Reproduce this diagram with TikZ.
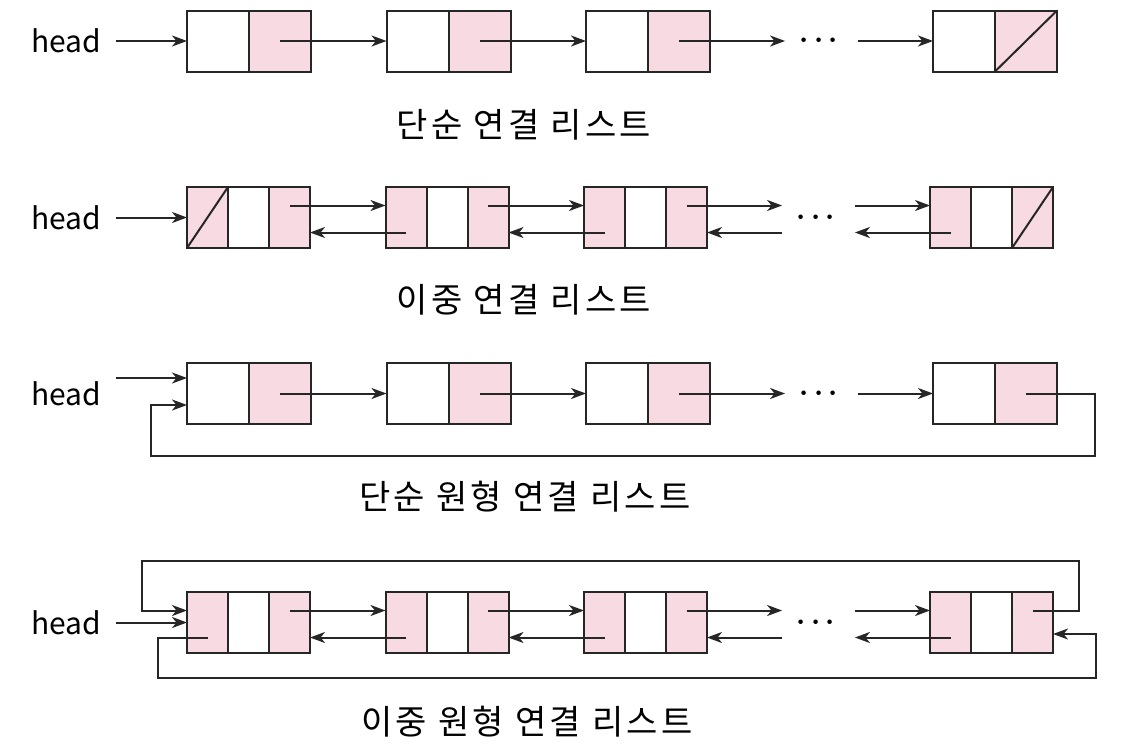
\documentclass[tikz,border=0pt]{standalone}
\usepackage{amsmath,amssymb}
\usepackage{fontspec}
\setmainfont{Noto Sans CJK KR}
\newfontfamily\krcap[LetterSpace=10]{Noto Sans CJK KR}
\usetikzlibrary{arrows.meta,positioning,calc}
\definecolor{ptrpink}{RGB}{248,218,226}

\begin{document}
\begin{tikzpicture}[>=Stealth, x=0.5pt, y=-0.5pt, node distance=0pt and 37.75pt]
		\tikzset{
			cell/.style={draw=black!85, line width=1pt, minimum height=30.5pt, minimum width=31pt, inner sep=0pt, outer sep=0pt},
			pcell/.style={cell, fill=ptrpink},
			narrow/.style={minimum width=20.5pt},
			arr/.style={->, line width=1pt, draw=black!85, >={Stealth[length=7.5pt,width=5.5pt,inset=2.2pt]}},
			nil/.style={line width=1pt, draw=black!85},
			lbl/.style={font=\fontsize{15}{18}\selectfont, inner sep=0pt},
			listname/.style={font=\krcap\fontsize{17}{20}\selectfont, inner sep=0pt},
			dots/.style={minimum width=36pt, inner sep=0pt, font=\fontsize{14}{18}\selectfont},
		}
		\useasboundingbox (0,0) rectangle (1138,755);
		
		% singly linked list
		\node[lbl] (h1) at (66,41) {head};
		\node[cell] (a1) at (218,41) {};
		\node[pcell, right=0pt of a1] (a1p) {};
		\node[cell, right=of a1p] (a2) {};
		\node[pcell, right=0pt of a2] (a2p) {};
		\node[cell, right=of a2p] (a3) {};
		\node[pcell, right=0pt of a3] (a3p) {};
		\node[cell, right=111.5pt of a3p] (a4) {};
		\node[pcell, right=0pt of a4] (a4p) {};
		\node[dots] (d1) at ($(a3p.east)!0.5!(a4.west)$) {$\boldsymbol{\cdots}$};
		\draw[nil] (a4p.south west) -- (a4p.north east);
		
		\draw[arr, shorten <=7.5pt] (h1.east) -- (a1.west);
		\draw[arr] (a1p.center) -- (a2.west);
		\draw[arr] (a2p.center) -- (a3.west);
		\draw[arr] (a3p.center) -- (d1.west);
		\draw[arr] (d1.east) -- (a4.west);
		\node[listname] (t1) at (524,125) {단순 연결 리스트};
		
		% doubly linked list
		\node[lbl] (h2) at (66,217.5) {head};
		\node[pcell, narrow] (b1l) at (207.5,217.5) {};
		\node[cell, narrow, right=0pt of b1l] (b1) {};
		\node[pcell, narrow, right=0pt of b1] (b1r) {};
		\node[pcell, narrow, right=of b1r] (b2l) {};
		\node[cell, narrow, right=0pt of b2l] (b2) {};
		\node[pcell, narrow, right=0pt of b2] (b2r) {};
		\node[pcell, narrow, right=of b2r] (b3l) {};
		\node[cell, narrow, right=0pt of b3l] (b3) {};
		\node[pcell, narrow, right=0pt of b3] (b3r) {};
		\node[pcell, narrow, right=111.5pt of b3r] (b4l) {};
		\node[cell, narrow, right=0pt of b4l] (b4) {};
		\node[pcell, narrow, right=0pt of b4] (b4r) {};
		\node[dots] (d2) at ($(b3r.east)!0.5!(b4l.west)$) {$\boldsymbol{\cdots}$};
		\draw[nil] (b1l.south west) -- (b1l.north east);
		\draw[nil] (b4r.south west) -- (b4r.north east);
		
		\draw[arr, shorten <=7.5pt] (h2.east) -- (b1l.west);
		\draw[arr] ([yshift=6pt]b1r.center) -- ([yshift=6pt]b2l.west);
		\draw[arr] ([yshift=-7.5pt]b2l.center) -- ([yshift=-7.5pt]b1r.east);
		\draw[arr] ([yshift=6pt]b2r.center) -- ([yshift=6pt]b3l.west);
		\draw[arr] ([yshift=-7.5pt]b3l.center) -- ([yshift=-7.5pt]b2r.east);
		\draw[arr] ([yshift=6pt]b3r.center) -- ([yshift=6pt]d2.west);
		\draw[arr] ([yshift=-7.5pt]d2.west) -- ([yshift=-7.5pt]b3r.east);
		\draw[arr] ([yshift=6pt]d2.east) -- ([yshift=6pt]b4l.west);
		\draw[arr] ([yshift=-7.5pt]b4l.center) -- ([yshift=-7.5pt]d2.east);
		\node[listname] (t2) at (524,300) {이중 연결 리스트};
		
		% circular singly linked list
		\node[lbl] (h3) at (66,393.5) {head};
		\node[cell] (c1) at (218,393.5) {};
		\node[pcell, right=0pt of c1] (c1p) {};
		\node[cell, right=of c1p] (c2) {};
		\node[pcell, right=0pt of c2] (c2p) {};
		\node[cell, right=of c2p] (c3) {};
		\node[pcell, right=0pt of c3] (c3p) {};
		\node[cell, right=111.5pt of c3p] (c4) {};
		\node[pcell, right=0pt of c4] (c4p) {};
		\node[dots] (d3) at ($(c3p.east)!0.5!(c4.west)$) {$\boldsymbol{\cdots}$};
		\coordinate (r3) at (1095,456);
		\coordinate (l3) at (151,456);
		
		\draw[arr] ($(h3.east)+(7.5pt,7.75pt)$) -- ([yshift=7.75pt]c1.west);
		\draw[arr] (c1p.center) -- (c2.west);
		\draw[arr] (c2p.center) -- (c3.west);
		\draw[arr] (c3p.center) -- (d3.west);
		\draw[arr] (d3.east) -- (c4.west);
		\draw[arr] (c4p.center) -| (r3) -- (l3) |- ([yshift=-5.75pt]c1.west);
		\node[listname] (t3) at (525,497) {단순 원형 연결 리스트};
		
		% circular doubly linked list
		\node[lbl] (h4) at (66,622.5) {head};
		\node[pcell, narrow] (e1l) at (207.5,622.5) {};
		\node[cell, narrow, right=0pt of e1l] (e1) {};
		\node[pcell, narrow, right=0pt of e1] (e1r) {};
		\node[pcell, narrow, right=of e1r] (e2l) {};
		\node[cell, narrow, right=0pt of e2l] (e2) {};
		\node[pcell, narrow, right=0pt of e2] (e2r) {};
		\node[pcell, narrow, right=of e2r] (e3l) {};
		\node[cell, narrow, right=0pt of e3l] (e3) {};
		\node[pcell, narrow, right=0pt of e3] (e3r) {};
		\node[pcell, narrow, right=111.5pt of e3r] (e4l) {};
		\node[cell, narrow, right=0pt of e4l] (e4) {};
		\node[pcell, narrow, right=0pt of e4] (e4r) {};
		\node[dots] (d4) at ($(e3r.east)!0.5!(e4l.west)$) {$\boldsymbol{\cdots}$};
		\coordinate (tr4) at (1079,561);
		\coordinate (tl4) at (142,561);
		\coordinate (bl4) at (158,678);
		\coordinate (br4) at (1096,678);
		
		\draw[arr, shorten <=7.5pt] (h4.east) -- (e1l.west);
		\draw[arr] ([yshift=6pt]e1r.center) -- ([yshift=6pt]e2l.west);
		\draw[arr] ([yshift=-7.5pt]e2l.center) -- ([yshift=-7.5pt]e1r.east);
		\draw[arr] ([yshift=6pt]e2r.center) -- ([yshift=6pt]e3l.west);
		\draw[arr] ([yshift=-7.5pt]e3l.center) -- ([yshift=-7.5pt]e2r.east);
		\draw[arr] ([yshift=6pt]e3r.center) -- ([yshift=6pt]d4.west);
		\draw[arr] ([yshift=-7.5pt]d4.west) -- ([yshift=-7.5pt]e3r.east);
		\draw[arr] ([yshift=6pt]d4.east) -- ([yshift=6pt]e4l.west);
		\draw[arr] ([yshift=-7.5pt]e4l.center) -- ([yshift=-7.5pt]d4.east);
		\draw[arr] ([yshift=6pt]e4r.center) -| (tr4) -- (tl4) |- ([yshift=6pt]e1l.west);
		\draw[arr] ([yshift=-7.5pt]e1l.center) -| (bl4) -- (br4) |- ([yshift=-5.75pt]e4r.east);
		\node[listname] (t4) at (527,722) {이중 원형 연결 리스트};
	\end{tikzpicture}
\end{document}
